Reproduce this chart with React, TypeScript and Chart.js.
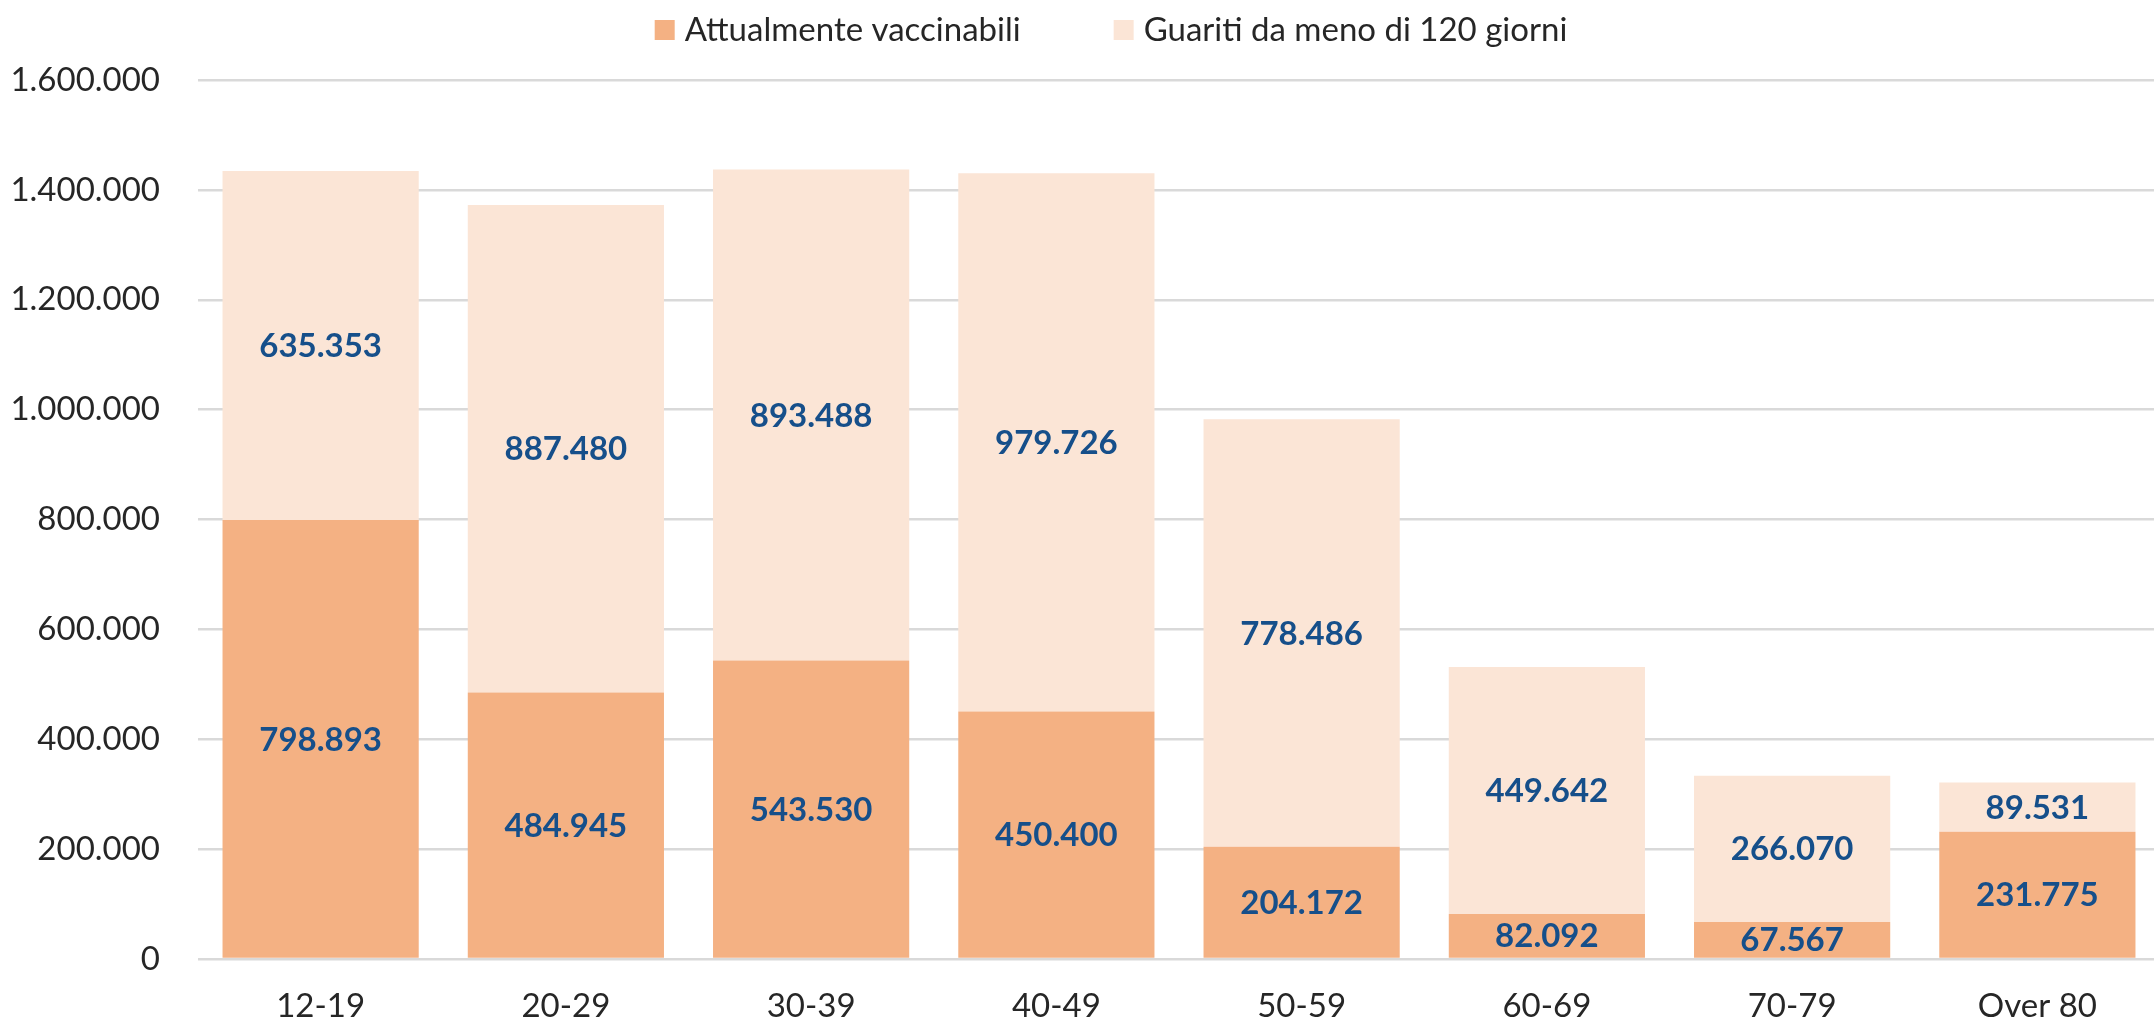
import React, { useEffect, useRef } from "react";
import { Chart, registerables } from "chart.js";

Chart.register(...registerables);

const categories = ["12-19", "20-29", "30-39", "40-49", "50-59", "60-69", "70-79", "Over 80"];
const seriesNames = ["Attualmente vaccinabili", "Guariti da meno di 120 giorni"];
const vaccinabili = [798893, 484945, 543530, 450400, 204172, 82092, 67567, 231775];
const guariti = [635353, 887480, 893488, 979726, 778486, 449642, 266070, 89531];
const yMin = 0;
const yMax = 1600000;
const yStep = 200000;

const COLOR_DARK = "#F4B183";
const COLOR_LIGHT = "#FBE5D6";
const LABEL_BLUE = "#164F8A";
const TEXT = "#262626";
const FONT = "Lato";

const fmt = (v: number) => String(Math.round(v)).replace(/\B(?=(\d{3})+(?!\d))/g, ".");

const labelsPlugin = {
  id: "segLabels",
  afterDatasetsDraw(chart: any) {
    const ctx = chart.ctx;
    ctx.save();
    ctx.font = `bold 33px ${FONT}`;
    ctx.fillStyle = LABEL_BLUE;
    ctx.textAlign = "center";
    ctx.textBaseline = "middle";
    chart.data.datasets.forEach((ds: any, di: number) => {
      const meta = chart.getDatasetMeta(di);
      meta.data.forEach((bar: any, i: number) => {
        const { x, y, base } = bar.getProps(["x", "y", "base"], true);
        ctx.fillText(fmt(ds.data[i]), x, (y + base) / 2 + 1);
      });
    });
    ctx.restore();
  },
};

const legendPlugin = {
  id: "customLegend",
  afterDraw(chart: any) {
    const ctx = chart.ctx;
    ctx.save();
    ctx.font = `33px ${FONT}`;
    ctx.textBaseline = "middle";
    ctx.textAlign = "left";
    const box = 20;
    const gap = 10;
    const itemGap = 93;
    const items = chart.data.datasets.map((d: any) => ({
      label: d.label,
      color: d.backgroundColor,
      w: box + gap + ctx.measureText(d.label).width,
    }));
    const total = items.reduce((s: number, it: any) => s + it.w, 0) + itemGap * (items.length - 1);
    let x = 1111 - total / 2;
    const cy = 30;
    items.forEach((it: any) => {
      ctx.fillStyle = it.color;
      ctx.fillRect(x, cy - box / 2, box, box);
      ctx.fillStyle = TEXT;
      ctx.fillText(it.label, x + box + gap, cy);
      x += it.w + itemGap;
    });
    ctx.restore();
  },
};

export default function App() {
  const ref = useRef<HTMLCanvasElement>(null);
  useEffect(() => {
    if (!ref.current) return;
    const chart = new Chart(ref.current, {
      type: "bar",
      data: {
        labels: categories,
        datasets: [
          { label: seriesNames[0], data: vaccinabili, backgroundColor: COLOR_DARK, barPercentage: 0.8, categoryPercentage: 1 },
          { label: seriesNames[1], data: guariti, backgroundColor: COLOR_LIGHT, barPercentage: 0.8, categoryPercentage: 1 },
        ],
      },
      options: {
        animation: false,
        responsive: false,
        devicePixelRatio: 1,
        layout: { padding: { top: 80, left: 0, right: 0, bottom: 0 } },
        plugins: { legend: { display: false }, tooltip: { enabled: false } },
        scales: {
          x: {
            stacked: true,
            grid: { display: false },
            border: { display: false },
            ticks: { color: TEXT, font: { family: FONT, size: 33 }, padding: 20, maxRotation: 0 },
            afterFit: (s: any) => { s.height = 62; },
          },
          y: {
            stacked: true,
            min: yMin,
            max: yMax,
            grid: { color: "#d9d9d9", lineWidth: 2.5, drawTicks: false },
            border: { display: false },
            ticks: {
              stepSize: yStep,
              color: TEXT,
              font: { family: FONT, size: 33 },
              padding: 38,
              callback: (v: any) => fmt(Number(v)),
            },
            afterFit: (s: any) => { s.width = 198; },
          },
        },
      },
      plugins: [labelsPlugin, legendPlugin],
    });
    return () => chart.destroy();
  }, []);
  return (
    <div style={{ position: "fixed", left: 0, top: 0, width: 2154, height: 1021, overflow: "hidden", background: "#fff" }}>
      <canvas ref={ref} width={2160} height={1021} style={{ width: 2160, height: 1021, display: "block" }} />
    </div>
  );
}
